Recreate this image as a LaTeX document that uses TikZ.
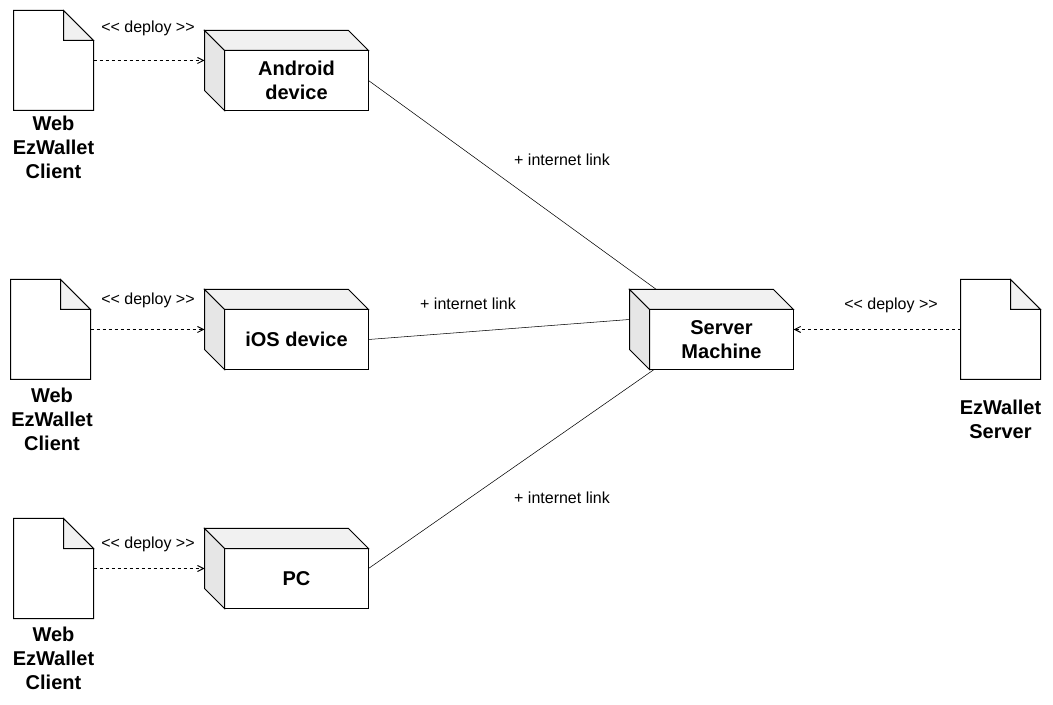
\documentclass[tikz,border=0pt]{standalone}
\usepackage{fontspec}
\setmainfont{Liberation Sans}
\usetikzlibrary{arrows.meta,backgrounds,calc}
\definecolor{facetop}{HTML}{F1F1F1}
\definecolor{faceleft}{HTML}{E6E6E6}
\tikzset{
  devbox/.style={draw, fill=white, anchor=north west, minimum width=108pt, minimum height=45pt, inner sep=0pt, outer sep=0pt, align=center, font=\fontsize{15}{18}\selectfont\bfseries},
  docbox/.style={anchor=north west, minimum width=60pt, minimum height=75pt, inner sep=0pt, outer sep=0pt},
  doclabel/.style={align=center, inner sep=0pt, font=\fontsize{15}{18}\selectfont\bfseries},
  linklabel/.style={inner sep=0pt, font=\fontsize{12}{14}\selectfont},
  deployline/.style={dash pattern=on 2.25pt off 2.25pt, -{Straight Barb[length=4.5pt,width=4.5pt]}}
}
\begin{document}
\begin{tikzpicture}[x=0.75pt, y=-0.75pt, line width=0.75pt]
\useasboundingbox (0,0) rectangle (1053,705);

% ---------- devices ----------
\foreach \name/\x/\y/\txt in {android/224.5/50.5/{Android\\device}, ios/224.5/309.5/{iOS device}, pc/224.5/548.5/{PC}, server/649.5/309.5/{Server\\Machine}}
{
  \node[devbox] (\name) at (\x,\y) {\txt};
  \draw[fill=facetop] (\name.north west) -- ++(-20,-20) -- ++(144,0) -- (\name.north east) -- cycle;
  \draw[fill=faceleft] (\name.north west) -- ++(-20,-20) -- ++(0,60) -- (\name.south west) -- cycle;
  \coordinate (\name-back) at ($(\name.west)+(-20,-20)$);
}
\coordinate (server-mid) at ($(server.center)+(-10,-10)$);
\coordinate (pc-out) at ($(pc.east)+(0,-10)$);

% ---------- artifacts ----------
\foreach \name/\x/\y/\lx/\ly/\txt in {docA/13.5/10.5/53.5/147.5/{Web\\EzWallet\\Client}, docB/10.5/279.5/52/419.5/{Web\\EzWallet\\Client}, docC/13.5/518.5/53.5/658.5/{Web\\EzWallet\\Client}, docS/960.5/279.5/1000.5/419.5/{EzWallet\\Server}}
{
  \node[docbox] (\name) at (\x,\y) {};
  \draw (\name.north west) -- ++(50,0) -- ($(\name.north east)+(0,30)$) -- (\name.south east) -- (\name.south west) -- cycle;
  \draw[fill=facetop] (\name.north west) ++(50,0) -- ++(30,30) -- ++(-30,0) -- cycle;
  \node[doclabel] (\name-text) at (\lx,\ly) {\txt};
}

% ---------- deploy arrows ----------
\draw[deployline] (docA.east) -- (docA.east -| android-back);
\draw[deployline] (docB.east) -- (docB.east -| ios-back);
\draw[deployline] (docC.east) -- (docC.east -| pc-back);
\draw[deployline] (docS.west) -- (docS.west -| server.east);

% ---------- internet links ----------
\begin{scope}[on background layer]
  \draw (android.east) -- (server-mid);
  \draw (ios.east) -- (server-back);
  \draw (pc-out) -- (server-mid);
\end{scope}

% ---------- labels ----------
\foreach \name/\x/\y in {depA/148/28, depB/148/300, depC/148/544, depS/891/305}
  \node[linklabel] (\name) at (\x,\y) {<{}< deploy >{}>};
\foreach \name/\x/\y in {linkA/562/160, linkB/468/304, linkC/562/498}
  \node[linklabel] (\name) at (\x,\y) {+ internet link};

\end{tikzpicture}
\end{document}
